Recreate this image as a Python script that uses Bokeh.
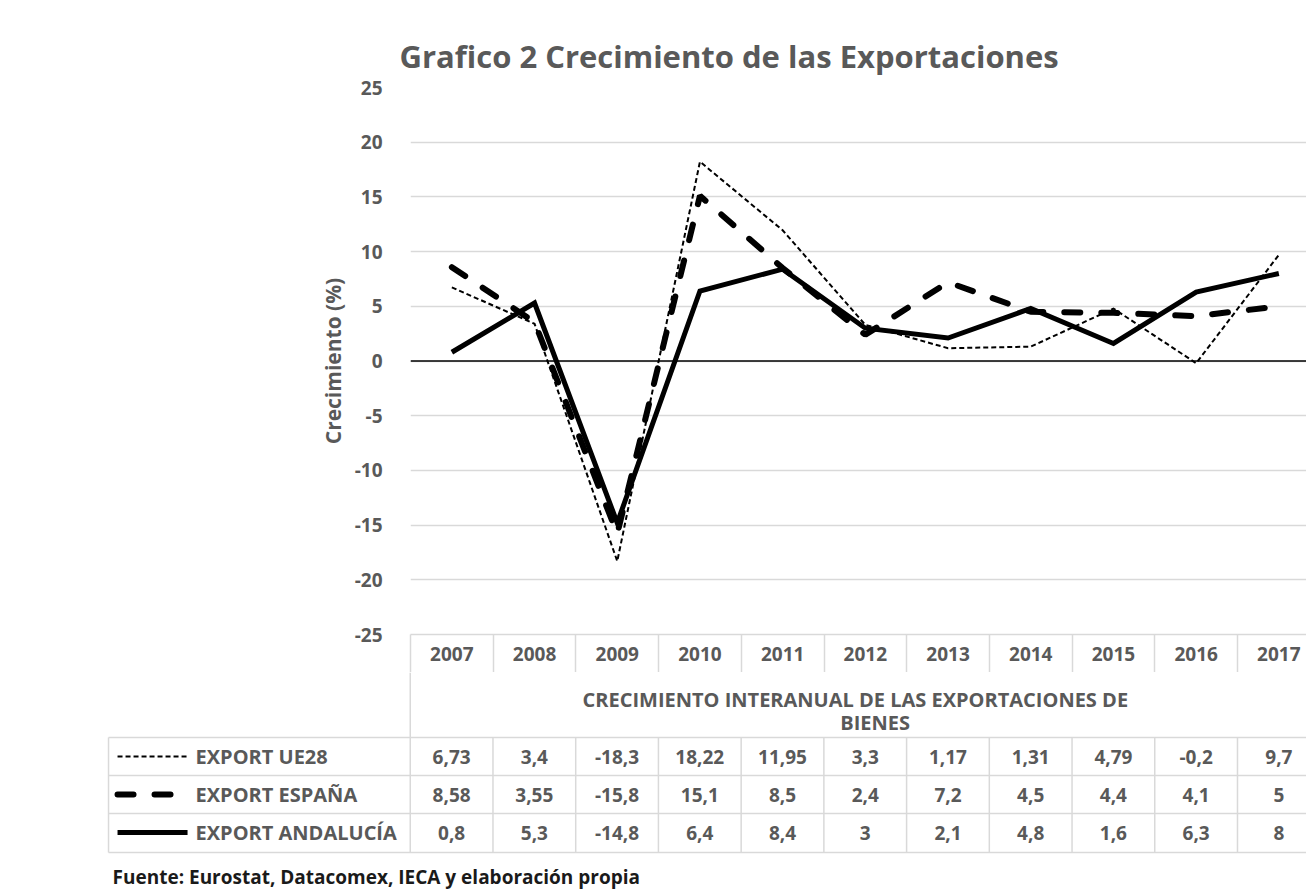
from bokeh.plotting import figure
from bokeh.layouts import column
from bokeh.models import Range1d, FixedTicker, Span
from bokeh.core.properties import value
from bokeh.embed import file_html
from bokeh.resources import INLINE

# ---------------- data ----------------
years = [2007, 2008, 2009, 2010, 2011, 2012, 2013, 2014, 2015, 2016, 2017]
export_ue28 = [6.73, 3.4, -18.3, 18.22, 11.95, 3.3, 1.17, 1.31, 4.79, -0.2, 9.7]
export_espana = [8.58, 3.55, -15.8, 15.1, 8.5, 2.4, 7.2, 4.5, 4.4, 4.1, 5]
export_andalucia = [0.8, 5.3, -14.8, 6.4, 8.4, 3, 2.1, 4.8, 1.6, 6.3, 8]
series_names = ["EXPORT UE28", "EXPORT ESPAÑA", "EXPORT ANDALUCÍA"]
y_ticks = [-25, -20, -15, -10, -5, 0, 5, 10, 15, 20, 25]
title_text = "Grafico 2 Crecimiento de las Exportaciones"
y_label = "Crecimiento (%)"
table_title = ["CRECIMIENTO INTERANUAL DE LAS EXPORTACIONES DE", "BIENES"]
source_text = "Fuente: Eurostat, Datacomex, IECA y elaboración propia"

# ---------------- styles / layout ----------------
FONT = "Open Sans"
GREY = "#595959"
GRID = "#d9d9d9"
W = 1306
H_TOP = 672
H_BOT = 218
FRAME_L = 410
STEP = 82.7          # px per category
X0_REF = 451         # page x of first category
idx = list(range(len(years)))
X_END = -0.5 + (W - FRAME_L) / STEP


def px(ref_x):
    return (ref_x - X0_REF) / STEP


styles = [
    dict(line_width=2, line_dash="5 3", line_join="miter"),
    dict(line_width=6, line_dash="16 21", line_cap="round"),
    dict(line_width=5, line_join="miter"),
]

# ---------------- chart ----------------
p = figure(width=W, height=H_TOP, x_range=Range1d(-0.5, X_END), y_range=Range1d(-25, 25),
           output_backend="svg", toolbar_location=None, frame_align=False,
           min_border_left=FRAME_L, min_border_right=0, min_border_top=87, min_border_bottom=38,
           outline_line_color=None, title=title_text)

p.title.align = "left"
p.title.offset = -11
p.title.text_font = FONT
p.title.text_font_size = "31px"
p.title.text_font_style = "bold"
p.title.text_color = GREY
p.title.standoff = 22

yt = FixedTicker(ticks=y_ticks)
p.yaxis.ticker = yt
p.yaxis.major_label_overrides = {v: str(v) for v in y_ticks}
p.yaxis.axis_line_color = None
p.yaxis.major_tick_line_color = None
p.yaxis.minor_tick_line_color = None
p.yaxis.major_label_standoff = 22
p.yaxis.major_label_text_font = FONT
p.yaxis.major_label_text_font_size = "19px"
p.yaxis.major_label_text_font_style = "bold"
p.yaxis.major_label_text_color = GREY
p.yaxis.axis_label = y_label
p.yaxis.axis_label_text_font = FONT
p.yaxis.axis_label_text_font_size = "21px"
p.yaxis.axis_label_text_font_style = "bold"
p.yaxis.axis_label_text_color = GREY
p.yaxis.axis_label_standoff = 5

p.xaxis.ticker = FixedTicker(ticks=idx, minor_ticks=[i - 0.5 for i in range(len(years) + 1)])
p.xaxis.major_label_overrides = {i: str(y) for i, y in zip(idx, years)}
p.xaxis.axis_line_color = GRID
p.xaxis.axis_line_width = 1.5
p.xaxis.major_tick_line_color = None
p.xaxis.minor_tick_line_color = GRID
p.xaxis.minor_tick_line_width = 1.5
p.xaxis.minor_tick_in = 0
p.xaxis.minor_tick_out = 38
p.xaxis.major_label_standoff = -26
p.xaxis.major_label_text_font = FONT
p.xaxis.major_label_text_font_size = "19px"
p.xaxis.major_label_text_font_style = "bold"
p.xaxis.major_label_text_color = GREY

p.xgrid.visible = False
p.ygrid.ticker = yt
p.ygrid.grid_line_color = GRID
p.ygrid.grid_line_width = 1.3

p.add_layout(Span(location=0, dimension="width", line_color="black", line_width=1.5))

for vals, st in zip([export_ue28, export_espana, export_andalucia], styles):
    p.line(idx, vals, line_color="black", **st)

# ---------------- data table ----------------
t = figure(width=W, height=H_BOT, x_range=Range1d(px(0), X_END), y_range=Range1d(890, 672),
           output_backend="svg", toolbar_location=None, x_axis_type=None, y_axis_type=None,
           frame_align=False,
           min_border_left=0, min_border_right=0, min_border_top=0, min_border_bottom=0,
           outline_line_color=None)
t.grid.visible = False

row_lines = [737, 775, 813, 852]
row_centers = [756, 794, 832]
tab_left = px(108)

x0s, y0s, x1s, y1s = [], [], [], []
# title row left border
x0s.append(-0.5); y0s.append(672); x1s.append(-0.5); y1s.append(row_lines[0])
# horizontal lines
for yl in row_lines:
    x0s.append(tab_left); y0s.append(yl); x1s.append(len(years) - 0.5); y1s.append(yl)
# vertical lines
for xv in [tab_left] + [i - 0.5 for i in range(len(years) + 1)]:
    x0s.append(xv); y0s.append(row_lines[0]); x1s.append(xv); y1s.append(row_lines[-1])
t.segment(x0s, y0s, x1s, y1s, line_color=GRID, line_width=1.5)

txt = dict(text_font=value(FONT), text_font_style="bold", text_color=GREY,
           text_baseline="middle")

mid = (idx[0] + idx[-1]) / 2
t.text(x=[mid - 0.12, mid + 0.12], y=[699, 722], text=table_title, text_align="center",
       text_font_size="20px", **txt)

# row labels + legend samples
t.text(x=[px(195)] * 3, y=row_centers, text=series_names, text_align="left",
       text_font_size="20px", **txt)
for yc, st in zip(row_centers, styles):
    t.line([px(117), px(187)], [yc, yc], line_color="black", **st)


def fmt(v):
    return str(v).replace(".", ",")


cx, cy, ct = [], [], []
for vals, yc in zip([export_ue28, export_espana, export_andalucia], row_centers):
    for i, v in zip(idx, vals):
        cx.append(i); cy.append(yc); ct.append(fmt(v))
t.text(x=cx, y=cy, text=ct, text_align="center", text_font_size="19px", **txt)

t.text(x=[px(112)], y=[876], text=[source_text], text_align="left",
       text_font=value(FONT), text_font_size="19px", text_font_style="bold",
       text_color="#1a1a1a", text_baseline="middle")

layout = column(p, t, spacing=0)
open("out.html", "w").write(file_html(layout, INLINE))
